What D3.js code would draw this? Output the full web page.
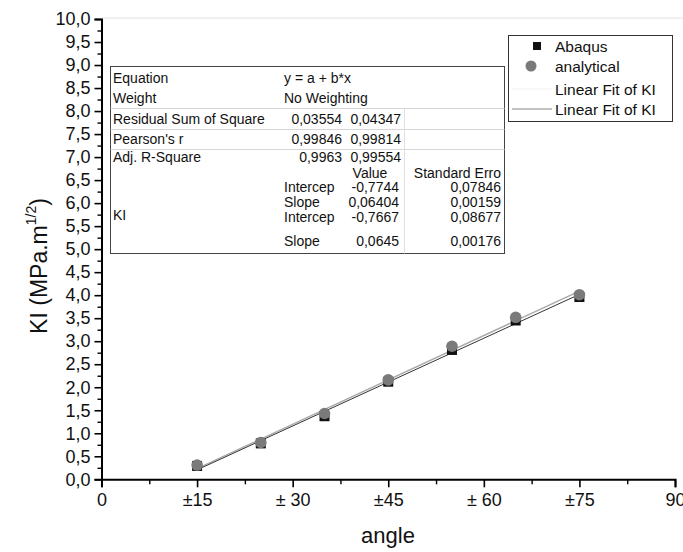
<!DOCTYPE html>
<html>
<head>
<meta charset="utf-8">
<script src="https://cdn.jsdelivr.net/npm/d3@7"></script>
<style>
  body { margin: 0; background: #fff; }
  text { font-family: "Liberation Sans", Arial, sans-serif; }
</style>
</head>
<body>
<div id="chart"></div>
<script>
// data
var angles = [15, 25, 35, 45, 55, 65, 75];
var abaqus = [0.29, 0.78, 1.37, 2.12, 2.81, 3.45, 3.96];
var analytical = [0.31, 0.80, 1.43, 2.16, 2.89, 3.52, 4.01];

var xTicks = [0, 15, 30, 45, 60, 75, 90];
var xTickLabels = ["0", "\u00b115", "\u00b1 30", "\u00b145", "\u00b1 60", "\u00b175", "90"];

var legendNames = ["Abaqus", "analytical", "Linear Fit of KI", "Linear Fit of KI"];

// fit table rows: [label, col1, col2]
var tableRows = [
    ["Equation", "y = a + b*x", ""],
    ["Weight", "No Weighting", ""],
    ["Residual Sum of Square", "0,03554", "0,04347"],
    ["Pearson's r", "0,99846", "0,99814"],
    ["Adj. R-Square", "0,9963", "0,99554"]
];
var paramHeader = ["", "Value", "Standard Erro"];
var paramRows = [
    ["Intercep", "-0,7744", "0,07846"],
    ["Slope", "0,06404", "0,00159"],
    ["Intercep", "-0,7667", "0,08677"],
    ["Slope", "0,0645", "0,00176"]
];

function linfit(xs, ys) {
    var mx = d3.mean(xs), my = d3.mean(ys);
    var sxy = d3.sum(xs, function (x, i) { return (x - mx) * (ys[i] - my); });
    var sxx = d3.sum(xs, function (x) { return (x - mx) * (x - mx); });
    var b = sxy / sxx;
    return { a: my - b * mx, b: b };
}

function chart() {
    var w = 683, h = 552;

    var svg = d3.select("#chart")
        .append("svg")
        .attr("width", w)
        .attr("height", h);

    var xScale = d3.scaleLinear().domain([0, 90]).range([101.5, 675]);
    var yScale = d3.scaleLinear().domain([0, 10]).range([479.3, 19]);

    // light top frame
    svg.append("line")
        .attr("x1", xScale(0)).attr("x2", w)
        .attr("y1", yScale(10) - 1).attr("y2", yScale(10) - 1)
        .style("stroke", "#e2e2e2");

    // Y axis
    var yAxis = svg.append("g")
        .attr("transform", "translate(" + xScale(0) + ",0)")
        .call(d3.axisLeft(yScale)
            .tickValues(d3.range(0, 10.01, 0.5))
            .tickSize(7)
            .tickPadding(4)
            .tickFormat(function (d) { return d3.format(".1f")(d).replace(".", ","); }));
    yAxis.select(".domain").style("stroke-width", 2);
    yAxis.selectAll(".tick line").style("stroke-width", 1.6);
    yAxis.selectAll("text").style("font-size", "18px").style("fill", "#111");

    svg.append("g")
        .attr("transform", "translate(" + xScale(0) + ",0)")
        .call(d3.axisLeft(yScale)
            .tickValues(d3.range(0.25, 10, 0.5))
            .tickSize(4)
            .tickFormat(""))
        .call(function (g) { g.select(".domain").remove(); })
        .selectAll(".tick line").style("stroke-width", 1.4);

    // X axis
    var xAxis = svg.append("g")
        .attr("transform", "translate(0," + yScale(0) + ")")
        .call(d3.axisBottom(xScale)
            .tickValues(xTicks)
            .tickSize(8)
            .tickPadding(6)
            .tickFormat(function (d, i) { return xTickLabels[i]; }));
    xAxis.select(".domain").style("stroke-width", 2);
    xAxis.selectAll(".tick line").style("stroke-width", 1.6);
    xAxis.selectAll("text").style("font-size", "18px").style("fill", "#111");

    svg.append("g")
        .attr("transform", "translate(0," + yScale(0) + ")")
        .call(d3.axisBottom(xScale)
            .tickValues(d3.range(7.5, 90, 15))
            .tickSize(5)
            .tickFormat(""))
        .call(function (g) { g.select(".domain").remove(); })
        .selectAll(".tick line").style("stroke-width", 1.4);

    // axis titles
    svg.append("text")
        .attr("x", 388).attr("y", 543)
        .attr("text-anchor", "middle")
        .style("font-size", "22px")
        .style("fill", "#111")
        .text("angle");

    var yt = svg.append("text")
        .attr("transform", "translate(47,266) rotate(-90)")
        .attr("text-anchor", "middle")
        .style("font-size", "23px")
        .style("fill", "#111");
    yt.append("tspan").text("KI (MPa.m");
    yt.append("tspan").attr("dy", -11).style("font-size", "14px").text("1/2");
    yt.append("tspan").attr("dy", 11).text(")");

    // fit lines
    var fitA = linfit(angles, abaqus);
    var fitB = linfit(angles, analytical);
    var fitLine = d3.line()
        .x(function (d) { return xScale(d); });
    var ends = [angles[0], angles[angles.length - 1]];

    svg.append("path")
        .datum(ends)
        .attr("d", fitLine.y(function (d) { return yScale(fitB.a + fitB.b * d); }))
        .style("stroke", "#aaa")
        .style("stroke-width", 1.5)
        .style("fill", "none");

    svg.append("path")
        .datum(ends)
        .attr("d", fitLine.y(function (d) { return yScale(fitA.a + fitA.b * d); }))
        .style("stroke", "#333")
        .style("stroke-width", 1)
        .style("fill", "none");

    // points
    svg.selectAll(".abaqus")
        .data(angles)
        .enter()
        .append("rect")
        .attr("class", "abaqus")
        .attr("x", function (d) { return xScale(d) - 5; })
        .attr("y", function (d, i) { return yScale(abaqus[i]) - 5; })
        .attr("width", 10)
        .attr("height", 10)
        .style("fill", "#111");

    svg.selectAll(".analytical")
        .data(angles)
        .enter()
        .append("circle")
        .attr("class", "analytical")
        .attr("cx", function (d) { return xScale(d); })
        .attr("cy", function (d, i) { return yScale(analytical[i]); })
        .attr("r", 5.8)
        .style("fill", "#7a7a7a");

    // fit table
    var tx = 110.5, ty = 66.5, tw = 394, th = 187;
    var tbl = svg.append("g").style("font-size", "14px").style("fill", "#111");

    tbl.append("rect")
        .attr("x", tx).attr("y", ty)
        .attr("width", tw).attr("height", th)
        .style("fill", "#fff")
        .style("stroke", "#444");

    [108.5, 129.5, 149.5].forEach(function (y) {
        tbl.append("line")
            .attr("x1", tx).attr("x2", tx + tw)
            .attr("y1", y).attr("y2", y)
            .style("stroke", "#d6d6d6");
    });
    tbl.append("line")
        .attr("x1", 404.5).attr("x2", 404.5)
        .attr("y1", 108.5).attr("y2", ty + th)
        .style("stroke", "#e0e0e0");

    var rowY = [83, 103, 124, 144, 162];
    tableRows.forEach(function (r, i) {
        tbl.append("text").attr("x", 113).attr("y", rowY[i]).text(r[0]);
        if (i < 2) {
            tbl.append("text").attr("x", 284).attr("y", rowY[i]).text(r[1]);
        } else {
            tbl.append("text").attr("x", 342).attr("y", rowY[i])
                .attr("text-anchor", "end").text(r[1]);
            tbl.append("text").attr("x", 401).attr("y", rowY[i])
                .attr("text-anchor", "end").text(r[2]);
        }
    });

    tbl.append("text").attr("x", 370).attr("y", 178)
        .attr("text-anchor", "middle").text(paramHeader[1]);
    tbl.append("text").attr("x", 501).attr("y", 178)
        .attr("text-anchor", "end").text(paramHeader[2]);

    var pY = [192, 207, 222, 246];
    paramRows.forEach(function (r, i) {
        tbl.append("text").attr("x", 284).attr("y", pY[i]).text(r[0]);
        tbl.append("text").attr("x", 399).attr("y", pY[i])
            .attr("text-anchor", "end").text(r[1]);
        tbl.append("text").attr("x", 501).attr("y", pY[i])
            .attr("text-anchor", "end").text(r[2]);
    });
    tbl.append("text").attr("x", 113).attr("y", 220).text("KI");

    // legend
    var lg = svg.append("g").style("font-size", "15.5px").style("fill", "#111");
    lg.append("rect")
        .attr("x", 508.5).attr("y", 35.5)
        .attr("width", 164).attr("height", 86)
        .style("fill", "#fff")
        .style("stroke", "#333");

    var lY = [46, 66, 89, 109];
    legendNames.forEach(function (n, i) {
        lg.append("text").attr("x", 555).attr("y", lY[i] + 5.5).text(n);
    });
    lg.append("rect").attr("x", 533).attr("y", lY[0] - 4)
        .attr("width", 8).attr("height", 8).style("fill", "#111");
    lg.append("circle").attr("cx", 531).attr("cy", lY[1])
        .attr("r", 5.5).style("fill", "#7a7a7a");
    lg.append("line").attr("x1", 512).attr("x2", 552)
        .attr("y1", lY[2]).attr("y2", lY[2])
        .style("stroke", "#f0f0f0");
    lg.append("line").attr("x1", 512).attr("x2", 552)
        .attr("y1", lY[3]).attr("y2", lY[3])
        .style("stroke", "#888");
}

chart();
</script>
</body>
</html>
